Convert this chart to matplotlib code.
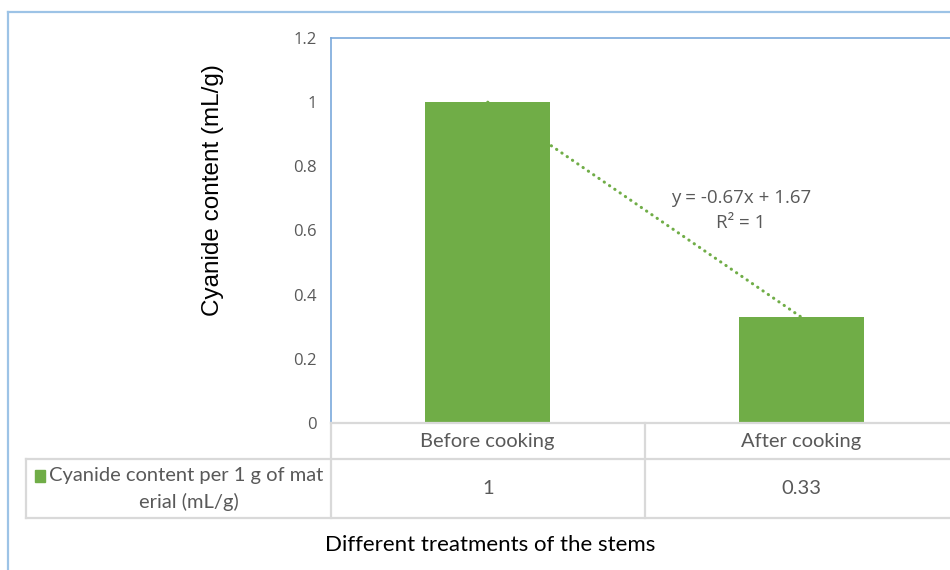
import numpy as np
import matplotlib.pyplot as plt
from matplotlib.lines import Line2D
from matplotlib.patches import Rectangle
import matplotlib.transforms as mtransforms

# --- data ---
CATEGORIES = ["Before cooking", "After cooking"]
VALUES = [1.0, 0.33]
VALUE_LABELS = ["1", "0.33"]
SERIES_NAME = ["Cyanide content per 1 g of mat", "erial (mL/g)"]
TREND_SLOPE = -0.67
TREND_INTERCEPT = 1.67
Y_TICKS = [0, 0.2, 0.4, 0.6, 0.8, 1.0, 1.2]
Y_TICK_LABELS = ["0", "0.2", "0.4", "0.6", "0.8", "1", "1.2"]

GREEN = "#70ad47"
GRAY_TXT = "#595959"
GRID_GRAY = "#d9d9d9"
FRAME_BLUE = "#9dc3e6"
AXIS_BLUE = "#7aa9dc"

W, H = 950, 570
fig = plt.figure(figsize=(W / 100, H / 100), dpi=100)


def fx(px):
    return px / W


def fy(py):
    return 1 - py / H


# plot area: left 331, top 38, bottom 423 (pixels); cut off on the right
ax = fig.add_axes([fx(331), fy(423), fx(950) - fx(331), fy(38) - fy(423)])
cat_px = 313.5
x = np.arange(len(CATEGORIES))
ax.set_xlim(-0.5, -0.5 + (950 - 331) / cat_px)
ax.set_ylim(0, 1.2)

ax.bar(x, VALUES, width=0.4, color=GREEN, zorder=3)

# linear trendline (Excel numbers categories from 1)
tx = np.array([1, 2])
ax.plot(tx - 1, TREND_SLOPE * tx + TREND_INTERCEPT, color=GREEN, lw=2.2,
        ls=(0, (0.1, 2.0)), dash_capstyle="round", zorder=2)
ax.text(0.808, 0.662, "y = -0.67x + 1.67\nR² = 1", ha="center", va="center",
        color=GRAY_TXT, fontsize=13.5, family="Open Sans", linespacing=1.45)

for s in ["right", "bottom"]:
    ax.spines[s].set_visible(False)
for s in ["left", "top"]:
    ax.spines[s].set_color(AXIS_BLUE)
    ax.spines[s].set_linewidth(1.2)

ax.set_yticks(Y_TICKS)
ax.set_yticklabels(Y_TICK_LABELS, color=GRAY_TXT, fontsize=12, family="Open Sans")
ax.tick_params(axis="y", length=0, pad=10)
ax.set_xticks([])
fig.text(fx(213), fy(190), "Cyanide content (mL/g)", rotation=90, ha="center",
         va="center", fontsize=17.5, family="Liberation Sans", color="black")

# --- data table below the axis ---
lines = [
    ((331, 950), (423, 423)),
    ((26, 950), (459, 459)),
    ((26, 950), (518, 518)),
    ((26, 26), (459, 518)),
    ((331, 331), (423, 518)),
    ((645, 645), (423, 518)),
]
for xs, ys in lines:
    fig.add_artist(Line2D([fx(xs[0]), fx(xs[1])], [fy(ys[0]), fy(ys[1])],
                          color=GRID_GRAY, lw=1.6))

trans = mtransforms.blended_transform_factory(ax.transData, fig.transFigure)
for xi, cat, lab in zip(x, CATEGORIES, VALUE_LABELS):
    ax.text(xi, fy(441), cat, transform=trans, ha="center", va="center",
            color=GRAY_TXT, fontsize=14.5, family="Lato", clip_on=False)
    ax.text(xi, fy(489), lab, transform=trans, ha="center", va="center",
            color=GRAY_TXT, fontsize=14.5, family="Lato", clip_on=False)

fig.add_artist(Rectangle((fx(35), fy(482)), fx(10), fy(470) - fy(482),
                         color=GREEN, transform=fig.transFigure))
fig.text(fx(49), fy(476), SERIES_NAME[0], ha="left", va="center",
         color=GRAY_TXT, fontsize=14.5, family="Lato")
fig.text(fx(189), fy(502), SERIES_NAME[1], ha="center", va="center",
         color=GRAY_TXT, fontsize=14.5, family="Lato")

fig.text(fx(490), fy(545), "Different treatments of the stems", ha="center",
         va="center", color="black", fontsize=16, family="Lato")

# outer chart frame (cropped on the right and bottom)
fig.add_artist(Line2D([fx(8), fx(8)], [fy(12), 0], color=FRAME_BLUE, lw=1.6))
fig.add_artist(Line2D([fx(8), 1], [fy(12), fy(12)], color=FRAME_BLUE, lw=1.6))

fig.savefig("out.png", dpi=100)
